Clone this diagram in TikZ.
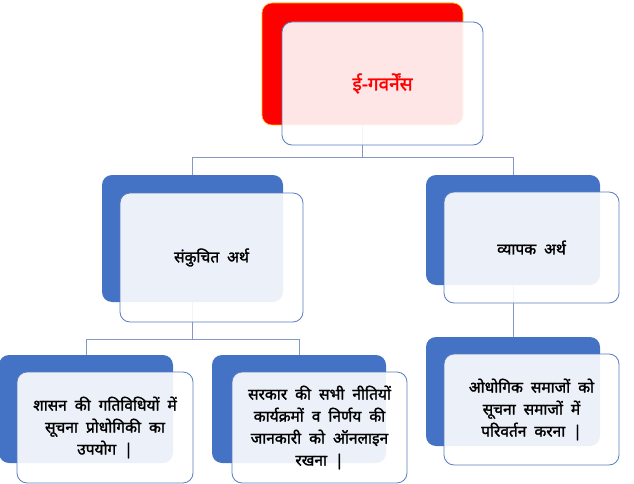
\documentclass[tikz,border=0pt]{standalone}
\usepackage{fontspec}
\newfontfamily\dev[Script=Devanagari, FakeBold=1.6]{Noto Sans}
\newcommand\widespaces{\spaceskip=8pt plus 1pt\relax}
\definecolor{backblue}{HTML}{4472C4}
\definecolor{edgeblue}{HTML}{5A7DC0}
\definecolor{linkblue}{HTML}{8398C4}
\definecolor{topred}{HTML}{FF0000}
\definecolor{topedge}{HTML}{FFC000}
\tikzset{
  backbox/.style={draw=none, fill=backblue, rounded corners=10pt, inner sep=0pt},
  redbox/.style={draw=topedge, line width=0.6pt, fill=topred, rounded corners=10pt, inner sep=0pt},
  frontbox/.style={draw=edgeblue, line width=0.8pt, fill=white, fill opacity=0.9, text opacity=1, rounded corners=10pt, inner sep=0pt},
  txt/.style={font=\dev\fontsize{15.5}{22}\selectfont, align=center, text=black, execute at begin node=\widespaces},
  link/.style={draw=linkblue, line width=1pt},
}
\begin{document}
\begin{tikzpicture}[x=1pt,y=-1pt]
\useasboundingbox (0,0) rectangle (634,484);
\clip (0,0) rectangle (634,484);
% back boxes
\node[redbox, minimum width=201pt, minimum height=122pt] (topB) at (362.5,64) {};
\node[backbox, minimum width=181pt, minimum height=127pt] (leftB) at (192.5,238.5) {};
\node[backbox, minimum width=174pt, minimum height=110pt] (rightB) at (513,230) {};
\node[backbox, minimum width=174pt, minimum height=108pt] (llB) at (86,409) {};
\node[backbox, minimum width=174pt, minimum height=108pt] (lrB) at (299,409) {};
\node[backbox, minimum width=174pt, minimum height=109pt] (rrB) at (513,391.5) {};
% connectors
\coordinate (topJ) at (362.5,157);
\coordinate (leftJ) at (192.5,339);
\draw[link] (topB.south) -- (topJ) -| (leftB.north);
\draw[link] (topJ) -| (rightB.north);
\draw[link] (leftB.south) -- (leftJ) -| (llB.north);
\draw[link] (leftJ) -| (lrB.north);
\draw[link] (rightB.south) -- (rrB.north);
% front boxes
\node[frontbox, minimum width=201pt, minimum height=123pt] (topF) at (382.5,83.5) {};
\node[frontbox, minimum width=183pt, minimum height=129pt] (leftF) at (211.5,257.5) {};
\node[frontbox, minimum width=175pt, minimum height=111pt] (rightF) at (531.5,247.5) {};
\node[frontbox, minimum width=176pt, minimum height=111pt] (llF) at (105,427.5) {};
\node[frontbox, minimum width=175pt, minimum height=111pt] (lrF) at (319.5,427.5) {};
\node[frontbox, minimum width=175pt, minimum height=111pt] (rrF) at (531.5,409.5) {};
% texts
\node[txt, text=topred, font=\dev\fontsize{19}{22}\selectfont] (topT) at (topF) {ई-गवर्नेंस};
\node[txt] (leftT) at (leftF) {संकुचित अर्थ};
\node[txt] (rightT) at (rightF) {व्यापक अर्थ};
\node[txt] (llT) at (llF) {शासन की गतिविधियों में\\सूचना प्रोधोगिकी का\\उपयोग |};
\node[txt] (lrT) at (lrF) {सरकार की सभी नीतियों\\कार्यक्रमों व निर्णय की\\जानकारी को ऑनलाइन\\रखना |};
\node[txt] (rrT) at (rrF) {ओधोगिक समाजों को\\सूचना समाजों में\\परिवर्तन करना |};
\end{tikzpicture}
\end{document}
